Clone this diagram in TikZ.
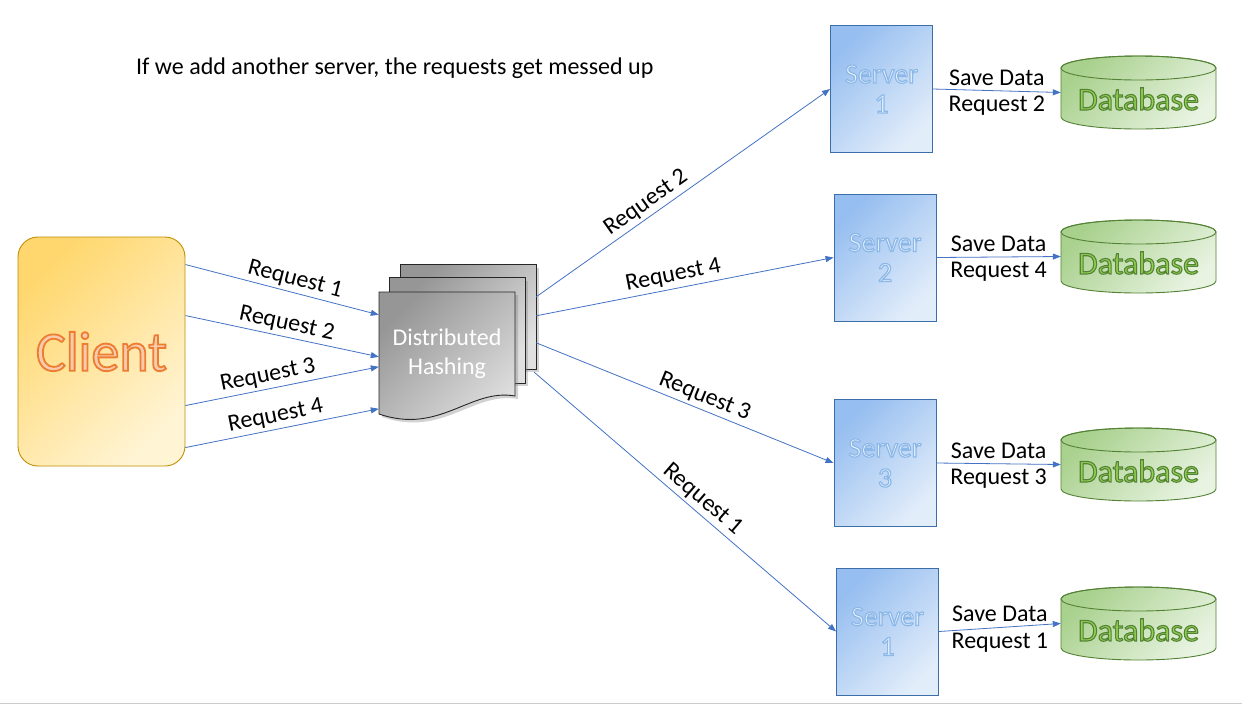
\documentclass[tikz,border=0pt]{standalone}
\usepackage{fontspec}
\setmainfont{Carlito}
\usetikzlibrary{arrows.meta,calc,shadows}
\definecolor{arrowc}{RGB}{68,114,196}
\definecolor{clientA}{RGB}{255,215,110}
\definecolor{clientB}{RGB}{255,244,212}
\definecolor{clientE}{RGB}{191,144,0}
\definecolor{clientTf}{RGB}{248,203,173}
\definecolor{srvA}{RGB}{150,190,240}
\definecolor{srvB}{RGB}{226,237,250}
\definecolor{srvE}{RGB}{60,110,170}
\definecolor{srvTf}{RGB}{236,244,253}
\definecolor{dbA}{RGB}{169,209,142}
\definecolor{dbB}{RGB}{232,243,225}
\definecolor{dbE}{RGB}{84,130,53}
\definecolor{dbTf}{RGB}{146,208,80}
\definecolor{hashA}{RGB}{150,150,150}
\definecolor{hashB}{RGB}{224,224,224}
\newcommand\clientfont{\fontsize{56}{60}\selectfont}
\newcommand\srvfont{\fontsize{28}{30}\selectfont}
\newcommand\dbfont{\fontsize{32}{36}\selectfont}
\newcommand\hashfont{\fontsize{24}{29}\selectfont}
% outline (stroke) for the following text: #1 line width, #2 rgb stroke colour
\newcommand\outl[2]{\special{pdf:literal direct 2 Tr #1 w #2 RG}}
% database: #1 name, #2 top ellipse centre y, #3 text name
\newcommand\dbase[3]{%
  \shade[top color=dbA,bottom color=dbB,shading angle=45,draw=dbE,line width=0.9pt]
    (1061,#2) -- (1061,#2+49) arc[start angle=180,end angle=360,x radius=77.5pt,y radius=12pt]
    -- (1216,#2) arc[start angle=0,end angle=180,x radius=77.5pt,y radius=12pt] -- cycle;
  \draw[dbE,line width=0.9pt] (1138.5,#2) ellipse[x radius=77.5pt,y radius=12pt];
  \node[minimum width=155pt,minimum height=73pt,inner sep=0] (#1) at (1138.5,#2+24.5) {};
  \node[font=\dbfont,text=dbTf,inner sep=0] (#3) at (1138.5,#2+31) {\outl{1.1}{0.33 0.51 0.21}Database};}
\begin{document}
\begin{tikzpicture}[x=1pt,y=-1pt,font=\fontsize{24}{28}\selectfont,
  conn/.style={draw=arrowc,line width=0.8pt,-{Triangle[length=8pt,width=6pt]}},
  lab/.style={sloped,above,inner sep=3pt,text=black},
  srv/.style={draw=srvE,line width=0.9pt,top color=srvA,bottom color=srvB,shading angle=45,
    minimum width=102pt,minimum height=127pt,inner sep=0},
  srvtext/.style={font=\srvfont,text=srvTf,align=center,inner sep=0},
  page/.style={draw=black!85,line width=0.9pt,top color=hashA,bottom color=hashB,shading angle=45,
    drop shadow={shadow xshift=3pt,shadow yshift=-3pt,opacity=0.35}}]
\useasboundingbox (0,0) rectangle (1242,705);
\fill[white] (0,0) rectangle (1242,705);
\draw[black!20,line width=1pt] (0,703.5) -- (1242,703.5);

\node[anchor=west,inner sep=0] (title) at (136,68) {If we add another server, the requests get messed up};

% client
\node[draw=clientE,line width=0.9pt,rounded corners=20pt,top color=clientA,bottom color=clientB,
  shading angle=45,minimum width=167pt,minimum height=229pt] (client) at (101.5,351.5) {};
\node[font=\clientfont,text=clientTf,inner sep=0] (clienttxt) at (client.center) {\outl{1.8}{0.93 0.49 0.19}Client};

% distributed hashing (multi-document)
\node[minimum width=135pt,minimum height=104pt,inner sep=0] (hashback) at (468.5,317) {};
\node[minimum width=135pt,minimum height=105pt,inner sep=0] (hashmid) at (457.5,330.5) {};
\path[page] (hashback.north west) rectangle (hashback.south east);
\path[page] (hashmid.north west) rectangle (hashmid.south east);
\path[page] (379,292) -- (515,292) -- (515,396) .. controls (470,388) and (440,435) .. (379,414) -- cycle;
\node[minimum width=136pt,minimum height=123pt,inner sep=0,text=white,font=\hashfont,align=center]
  (hash) at (447,353.5) {Distributed\\Hashing};

% servers
\node[srv] (s1) at (881.5,89) {};
\node[srv] (s2) at (885,257.5) {};
\node[srv] (s3) at (885,463) {};
\node[srv] (s4) at (887.5,631.5) {};
\node[srvtext] (s1t) at (s1.center) {\outl{1.2}{0.55 0.72 0.91}Server\\\outl{1.2}{0.55 0.72 0.91}1};
\node[srvtext] (s2t) at (s2.center) {\outl{1.2}{0.55 0.72 0.91}Server\\\outl{1.2}{0.55 0.72 0.91}2};
\node[srvtext] (s3t) at (s3.center) {\outl{1.2}{0.55 0.72 0.91}Server\\\outl{1.2}{0.55 0.72 0.91}3};
\node[srvtext] (s4t) at (s4.center) {\outl{1.2}{0.55 0.72 0.91}Server\\\outl{1.2}{0.55 0.72 0.91}1};

% databases
\dbase{db1}{68}{db1t}
\dbase{db2}{232}{db2t}
\dbase{db3}{440}{db3t}
\dbase{db4}{599}{db4t}

% client -> hashing
\draw[conn] ([yshift=-28pt]client.north east) -- node[lab,pos=.55]{Request 1} ([yshift=-23pt]hash.north west);
\draw[conn] ([yshift=-79pt]client.north east) -- node[lab,pos=.51]{Request 2} ([yshift=-65pt]hash.north west);
\draw[conn] ([yshift=-169pt]client.north east) -- node[lab,pos=.44]{Request 3} ([yshift=-75pt]hash.north west);
\draw[conn] ([yshift=-211pt]client.north east) -- node[lab,pos=.48]{Request 4} ([yshift=-117pt]hash.north west);

% hashing -> servers
\draw[conn] ([yshift=-32pt]hashback.north east) -- node[lab,pos=.40]{Request 2} (s1.west);
\draw[conn] ([yshift=-51pt]hashback.north east) -- node[lab,pos=.47]{Request 4} (s2.west);
\draw[conn] ([yshift=-78pt]hashback.north east) -- node[lab,pos=.55]{Request 3} (s3.west);
\draw[conn] ([shift={(-2pt,-3pt)}]hashback.south east) -- node[lab,pos=.53]{Request 1} (s4.west);

% servers -> databases
\draw[conn] (s1.east) -- node[above,inner sep=5pt]{Save Data} node[below,inner sep=5pt]{Request 2} (db1.west);
\draw[conn] (s2.east) -- node[above,inner sep=5pt]{Save Data} node[below,inner sep=5pt]{Request 4} (db2.west);
\draw[conn] (s3.east) -- node[above,inner sep=5pt]{Save Data} node[below,inner sep=5pt]{Request 3} (db3.west);
\draw[conn] (s4.east) -- node[above,inner sep=5pt]{Save Data} node[below,inner sep=5pt]{Request 1} (db4.west);
\end{tikzpicture}
\end{document}
